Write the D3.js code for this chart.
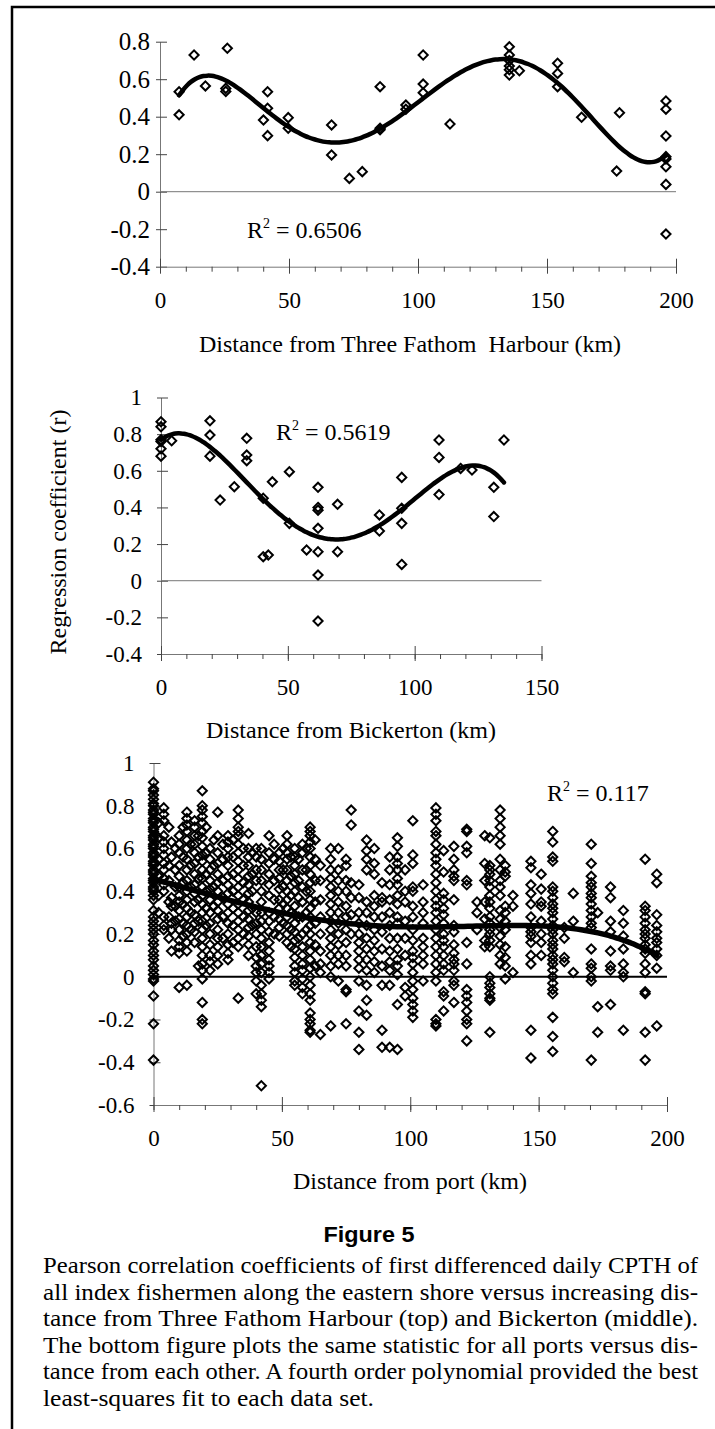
<!DOCTYPE html>
<html>
<head>
<meta charset="utf-8">
<script src="https://cdn.jsdelivr.net/npm/d3@7"></script>
<style>
  body { margin: 0; background: #fff; }
  svg { display: block; background: #fff; }
  text { font-family: "Liberation Serif", "Times New Roman", serif; fill: #000; }
</style>
</head>
<body>
<svg id="fig" width="715" height="1429"></svg>
<script>
// ---- top panel: distance from Three Fathom Harbour ----
const harbourKm = [7.4, 7.4, 13.2, 17.6, 26.1, 25.5, 25.5,
  41.7, 41.7, 40.1, 41.7, 49.7, 49.7, 66.5, 66.5, 73.4, 78.4,
  85.3, 85.3, 85.3, 95.3, 95.3, 102, 102, 102, 112.4,
  135.4, 135.4, 135.4, 135.4, 135.4, 135.4, 139.3, 154.1, 154.1, 154.1,
  163.4, 178.1, 177, 196.1, 196.1, 196.1, 196.1, 196.1, 196.1, 196.1, 196.1];
const harbourR = [0.533, 0.41, 0.729, 0.564, 0.765, 0.551, 0.535,
  0.533, 0.445, 0.382, 0.299, 0.395, 0.338, 0.356, 0.196, 0.071, 0.107,
  0.56, 0.338, 0.33, 0.462, 0.44, 0.729, 0.574, 0.528, 0.361,
  0.773, 0.729, 0.70, 0.67, 0.65, 0.622, 0.645, 0.685, 0.631, 0.56,
  0.397, 0.421, 0.11, 0.484, 0.44, 0.297, 0.187, 0.175, 0.133, 0.039, -0.226];

// ---- middle panel: distance from Bickerton ----
const bickKm = [0, 0, 0, 0, 0, 0, 4.2, 19.3, 19.3, 19.3, 23.3, 28.9,
  33.8, 33.8, 33.8, 40.3, 40.3, 42.3, 43.9, 50.6, 50.6, 57.4,
  61.9, 61.9, 61.9, 61.9, 61.9, 61.9, 61.9, 69.6, 69.6, 86.1, 86.1,
  94.9, 94.9, 94.9, 94.9, 109.6, 109.6, 109.6, 118.1, 122.6, 131.2, 131.2, 135.2];
const bickR = [0.868, 0.84, 0.77, 0.76, 0.72, 0.68, 0.764, 0.873, 0.795, 0.68, 0.44, 0.513,
  0.777, 0.686, 0.655, 0.45, 0.131, 0.14, 0.54, 0.595, 0.313, 0.168,
  0.51, 0.40, 0.385, 0.286, 0.158, 0.031, -0.22, 0.417, 0.158, 0.359, 0.271,
  0.564, 0.395, 0.313, 0.089, 0.768, 0.673, 0.47, 0.613, 0.604, 0.51, 0.35, 0.768];

// ---- bottom panel: all ports, [distance, r values at that distance] ----
const portCols = [
  [0, [0.91, 0.88, 0.87, 0.85, 0.83, 0.81, 0.80, 0.78, 0.77, 0.76, 0.74, 0.73, 0.72, 0.70, 0.69, 0.68, 0.66, 0.65, 0.64, 0.62, 0.61, 0.60, 0.58, 0.57, 0.56, 0.54, 0.53, 0.52, 0.50, 0.49, 0.48, 0.46, 0.45, 0.44, 0.42, 0.41, 0.40, 0.38, 0.36, 0.31, 0.28, 0.26, 0.24, 0.22, 0.20, 0.17, 0.15, 0.12, 0.10, 0.08, 0.05, 0.03, 0.01, -0.01, -0.02, -0.09, -0.22, -0.39]],
  [2, [0.72, 0.65, 0.55, 0.47, 0.38, 0.30]],
  [4, [0.79, 0.76, 0.73, 0.66, 0.63, 0.60, 0.57, 0.53, 0.50, 0.46, 0.43, 0.40, 0.28, 0.24, 0.22]],
  [6, [0.70, 0.52, 0.45, 0.35, 0.28, 0.18]],
  [7, [0.63, 0.56, 0.37, 0.33, 0.25, 0.22, 0.12]],
  [8.5, [0.60, 0.50, 0.42, 0.33, 0.26]],
  [10, [0.66, 0.62, 0.58, 0.52, 0.47, 0.42, 0.38, 0.35, 0.31, 0.27, 0.22, 0.17, 0.14, 0.11, -0.05]],
  [11.5, [0.70, 0.56, 0.44, 0.34, 0.25, 0.19]],
  [13, [0.77, 0.74, 0.71, 0.68, 0.64, 0.60, 0.55, 0.50, 0.45, 0.40, 0.36, 0.32, 0.28, 0.24, 0.20, 0.16, 0.12, -0.04]],
  [14.5, [0.62, 0.52, 0.42, 0.30, 0.22]],
  [16, [0.73, 0.70, 0.66, 0.62, 0.58, 0.53, 0.48, 0.43, 0.39, 0.35, 0.29, 0.25, 0.21, 0.16]],
  [17.5, [0.66, 0.56, 0.46, 0.36, 0.26, 0.05]],
  [19, [0.87, 0.80, 0.78, 0.75, 0.72, 0.68, 0.65, 0.61, 0.57, 0.54, 0.50, 0.46, 0.42, 0.38, 0.34, 0.30, 0.26, 0.22, 0.18, 0.14, 0.10, 0.06, 0.03, -0.01, -0.12, -0.20, -0.22]],
  [20.5, [0.70, 0.58, 0.48, 0.40, 0.32, 0.24]],
  [22, [0.60, 0.55, 0.50, 0.45, 0.41, 0.36, 0.30, 0.25, 0.20, 0.15, 0.10, 0.07, 0.03]],
  [23.5, [0.64, 0.52, 0.42, 0.33]],
  [25, [0.77, 0.66, 0.58, 0.53, 0.48, 0.44, 0.40, 0.35, 0.31, 0.27, 0.22, 0.18, 0.14, 0.10, 0.06]],
  [27, [0.62, 0.55, 0.45, 0.37, 0.28, 0.18]],
  [29, [0.66, 0.63, 0.60, 0.56, 0.52, 0.47, 0.43, 0.39, 0.34, 0.30, 0.25, 0.20, 0.15, 0.11, 0.08]],
  [31, [0.64, 0.56, 0.48, 0.40, 0.32, 0.24, 0.16]],
  [33, [0.78, 0.74, 0.70, 0.68, 0.66, 0.62, 0.58, 0.54, 0.50, 0.46, 0.42, 0.38, 0.34, 0.30, 0.26, 0.22, 0.18, 0.14, -0.10]],
  [35, [0.60, 0.52, 0.44, 0.36, 0.28, 0.20]],
  [37, [0.67, 0.60, 0.56, 0.52, 0.47, 0.43, 0.39, 0.35, 0.31, 0.27, 0.23, 0.19, 0.15, 0.10]],
  [38.5, [0.58, 0.48, 0.40, 0.32, 0.24]],
  [40, [0.60, 0.56, 0.50, 0.45, 0.30, 0.25, 0.20, 0.14, 0.09, 0.05, 0.02, -0.02, -0.08]],
  [42, [0.60, 0.55, 0.50, 0.45, 0.40, 0.35, 0.30, 0.26, 0.22, 0.18, 0.14, 0.10, 0.06, 0.02, -0.04, -0.08, -0.11, -0.14, -0.51]],
  [45, [0.66, 0.58, 0.53, 0.48, 0.43, 0.38, 0.30, 0.26, 0.21, 0.16, 0.12, 0.08, 0.05, 0.02, -0.01]],
  [47, [0.62, 0.55, 0.45, 0.36, 0.28, 0.20]],
  [49, [0.58, 0.54, 0.50, 0.46, 0.41, 0.36, 0.32, 0.27, 0.23, 0.19]],
  [50.5, [0.60, 0.50, 0.42, 0.34, 0.25]],
  [52, [0.66, 0.62, 0.58, 0.55, 0.50, 0.45, 0.40, 0.36, 0.32, 0.28, 0.24, 0.20, 0.16]],
  [53.5, [0.56, 0.47, 0.38, 0.30, 0.22, 0.14]],
  [55, [0.60, 0.56, 0.52, 0.48, 0.44, 0.40, 0.33, 0.29, 0.25, 0.21, 0.17, 0.13, 0.09, 0.05, 0.02, -0.02, -0.04]],
  [56.5, [0.55, 0.45, 0.37, 0.28, 0.18]],
  [58, [0.62, 0.58, 0.50, 0.42, 0.35, 0.28, 0.20, 0.14, 0.10, 0.06, 0.03, -0.01, -0.05, -0.08]],
  [59.5, [0.60, 0.50, 0.40, 0.30, 0.22]],
  [61, [0.70, 0.68, 0.66, 0.63, 0.60, 0.56, 0.52, 0.48, 0.44, 0.40, 0.36, 0.32, 0.28, 0.24, 0.20, 0.16, 0.12, 0.08, 0.04, 0.00, -0.04, -0.08, -0.11, -0.17, -0.20, -0.22, -0.25, -0.26]],
  [63, [0.64, 0.55, 0.45, 0.35, 0.25, 0.15, 0.05]],
  [65, [0.52, 0.45, 0.36, 0.28, 0.20, 0.12, 0.06, 0.02, -0.27]],
  [69, [0.60, 0.55, 0.50, 0.46, 0.42, 0.38, 0.34, 0.30, 0.26, 0.22, 0.18, 0.14, 0.10, 0.05, 0.00, -0.23]],
  [72, [0.60, 0.50, 0.45, 0.40, 0.35, 0.30, 0.25, 0.20, 0.15, 0.10, 0.06, -0.02]],
  [75, [0.55, 0.52, 0.45, 0.40, 0.33, 0.28, 0.22, 0.16, 0.10, 0.05, -0.06, -0.07, -0.22]],
  [77, [0.78, 0.71, 0.44, 0.37, 0.29, 0.20]],
  [80, [0.43, 0.37, 0.30, 0.25, 0.20, 0.16, 0.12, 0.08, 0.04, -0.02, -0.16, -0.26, -0.34]],
  [83, [0.64, 0.59, 0.55, 0.50, 0.35, 0.30, 0.24, 0.18, 0.13, 0.08, 0.03, -0.04, -0.11, -0.18]],
  [86, [0.60, 0.53, 0.48, 0.38, 0.33, 0.28, 0.22, 0.17, 0.12, 0.07, 0.02]],
  [89, [0.44, 0.37, 0.35, 0.28, 0.21, 0.13, 0.05, -0.04, -0.25, -0.33]],
  [92, [0.56, 0.50, 0.43, 0.36, 0.30, 0.24, 0.18, 0.12, 0.07, 0.03, -0.04, -0.33]],
  [95, [0.65, 0.61, 0.56, 0.53, 0.50, 0.46, 0.43, 0.38, 0.34, 0.28, 0.25, 0.18, 0.13, 0.08, 0.05, 0.01, -0.13, -0.34]],
  [98, [0.50, 0.40, 0.35, 0.26, 0.18, 0.10, -0.05, -0.09]],
  [101, [0.73, 0.57, 0.53, 0.42, 0.40, 0.33, 0.28, 0.22, 0.17, 0.12, 0.09, 0.06, 0.02, -0.02, -0.06, -0.10, -0.13, -0.16, -0.19]],
  [105, [0.43, 0.35, 0.30, 0.25, 0.18, 0.14, 0.10, 0.06, -0.02]],
  [110, [0.79, 0.76, 0.73, 0.68, 0.66, 0.62, 0.58, 0.55, 0.52, 0.48, 0.44, 0.40, 0.36, 0.33, 0.30, 0.26, 0.22, 0.18, 0.14, 0.10, 0.06, 0.02, -0.02, -0.20, -0.22, -0.23]],
  [113, [0.59, 0.49, 0.39, 0.36, 0.32, 0.29, 0.25, 0.20, 0.17, 0.14, 0.10, 0.06, 0.03, -0.07, -0.09, -0.16]],
  [117, [0.61, 0.55, 0.50, 0.47, 0.45, 0.36, 0.24, 0.21, 0.15, 0.11, 0.08, 0.06, 0.03, -0.02, -0.04, -0.12]],
  [122, [0.69, 0.68, 0.61, 0.58, 0.45, 0.43, 0.16, 0.06, -0.06, -0.09, -0.12, -0.16, -0.20, -0.22, -0.30]],
  [126, [0.35, 0.30, 0.22]],
  [129, [0.66, 0.53, 0.45, 0.35, 0.27, 0.17, 0.14]],
  [131, [0.65, 0.52, 0.50, 0.48, 0.45, 0.42, 0.38, 0.35, 0.32, 0.28, 0.25, 0.22, 0.20, 0.17, 0.14, 0.00, -0.03, -0.05, -0.08, -0.10, -0.11, -0.26]],
  [135, [0.78, 0.74, 0.70, 0.66, 0.62, 0.55, 0.50, 0.45, 0.42, 0.38, 0.31, 0.27, 0.23, 0.19, 0.15, 0.10, 0.06]],
  [137, [0.52, 0.49, 0.47, 0.33, 0.30, 0.26, 0.22, 0.14, 0.09, 0.05, -0.01]],
  [140, [0.38, 0.33, 0.02]],
  [147, [0.54, 0.51, 0.43, 0.39, 0.34, 0.28, 0.23, 0.21, 0.19, 0.16, 0.10, 0.06, -0.25, -0.38]],
  [151, [0.48, 0.41, 0.35, 0.33, 0.26, 0.20, 0.16, 0.10]],
  [155.5, [0.68, 0.63, 0.56, 0.54, 0.42, 0.40, 0.37, 0.34, 0.32, 0.30, 0.27, 0.24, 0.22, 0.20, 0.17, 0.15, 0.13, 0.10, 0.08, 0.06, 0.03, 0.00, -0.03, -0.06, -0.08, -0.19, -0.28, -0.35]],
  [160, [0.23, 0.18, 0.09, 0.07]],
  [163.5, [0.39, 0.26, 0.02]],
  [170.5, [0.62, 0.53, 0.47, 0.44, 0.42, 0.39, 0.37, 0.34, 0.31, 0.28, 0.25, 0.23, 0.13, 0.06, 0.04, 0.00, -0.02, -0.39]],
  [173, [0.30, -0.14, -0.26]],
  [178, [0.42, 0.37, 0.26, 0.21, 0.12, 0.05, 0.03, -0.13]],
  [183, [0.31, 0.25, 0.19, 0.13, 0.06, 0.02, 0.00, -0.25]],
  [191.5, [0.55, 0.33, 0.31, 0.28, 0.25, 0.22, 0.20, 0.18, 0.15, 0.13, 0.11, 0.06, 0.02, -0.07, -0.08, -0.26, -0.39]],
  [196, [0.48, 0.44, 0.29, 0.24, 0.21, 0.18, 0.16, 0.13, 0.10, 0.04, -0.23]]
];

const captionLines = [
  'Pearson correlation coefficients of first differenced daily CPTH of',
  'all index fishermen along the eastern shore versus increasing dis-',
  'tance from Three Fathom Harbour (top) and Bickerton (middle).',
  'The bottom figure plots the same statistic for all ports versus dis-',
  'tance from each other. A fourth order polynomial provided the best',
  'least-squares fit to each data set.'
];

const svg = d3.select('#fig');

// least-squares polynomial trendline (x scaled to [0,1] for stability)
function polyFit(xs, ys, deg) {
  const s = d3.max(xs), n = deg + 1;
  const A = Array.from({ length: n }, () => new Array(n + 1).fill(0));
  xs.forEach((x, k) => {
    const u = x / s;
    const pw = d3.range(2 * n).map(p => Math.pow(u, p));
    for (let i = 0; i < n; i++) {
      for (let j = 0; j < n; j++) A[i][j] += pw[i + j];
      A[i][n] += pw[i] * ys[k];
    }
  });
  for (let c = 0; c < n; c++) {
    let p = c;
    for (let r = c + 1; r < n; r++) if (Math.abs(A[r][c]) > Math.abs(A[p][c])) p = r;
    [A[c], A[p]] = [A[p], A[c]];
    for (let r = 0; r < n; r++) {
      if (r === c) continue;
      const f = A[r][c] / A[c][c];
      for (let k = c; k <= n; k++) A[r][k] -= f * A[c][k];
    }
  }
  const coef = A.map((row, i) => row[n] / row[i]);
  return x => coef.reduce((acc, c, i) => acc + c * Math.pow(x / s, i), 0);
}

const diamond = 'M0,-4.6L4.6,0L0,4.6L-4.6,0Z';
const fmt = v => String(+v.toFixed(1));

function drawPanel(cfg) {
  const { xs, ys } = cfg;
  const x = d3.scaleLinear().domain(cfg.xDomain).range(cfg.xRange);
  const y = d3.scaleLinear().domain(cfg.yDomain).range(cfg.yRange);
  const g = svg.append('g');

  // y axis, ticks cross the line
  g.append('g')
    .attr('transform', `translate(${cfg.xRange[0]},0)`)
    .call(d3.axisLeft(y).tickValues(d3.range(cfg.yDomain[0], cfg.yDomain[1] + 0.01, 0.2))
      .tickSizeInner(-7).tickSizeOuter(0).tickPadding(cfg.yPad).tickFormat(fmt))
    .call(a => a.selectAll('.tick line').attr('x1', -4).attr('stroke', '#444'))
    .call(a => a.select('.domain').attr('stroke', '#777'))
    .call(a => a.selectAll('text').attr('font-size', cfg.yFont).attr('font-family', null));

  // x axis: minor ticks every 10, major every 50
  const xb = cfg.yRange[0];
  g.append('g')
    .attr('transform', `translate(0,${xb})`)
    .call(d3.axisBottom(x).tickValues(d3.range(cfg.xDomain[0], cfg.xDomain[1] + 1, 10))
      .tickSize(5).tickSizeOuter(0).tickFormat(''))
    .call(a => a.selectAll('.tick line').attr('stroke', '#444'))
    .call(a => a.select('.domain').attr('stroke', '#777'));
  g.append('g')
    .attr('transform', `translate(0,${xb})`)
    .call(d3.axisBottom(x).tickValues(d3.range(cfg.xDomain[0], cfg.xDomain[1] + 1, 50))
      .tickSize(7).tickSizeOuter(0).tickPadding(18).tickFormat(d3.format('d')))
    .call(a => a.select('.domain').remove())
    .call(a => a.selectAll('.tick line').attr('y1', -8).attr('stroke', '#444'))
    .call(a => a.selectAll('text').attr('font-size', 23).attr('font-family', null));

  // zero line
  g.append('line')
    .attr('x1', x(cfg.xDomain[0])).attr('x2', x(cfg.xDomain[1]))
    .attr('y1', y(0)).attr('y2', y(0))
    .attr('stroke', cfg.zeroColor).attr('stroke-width', cfg.zeroWidth);

  // points
  g.append('g').selectAll('path')
    .data(xs.map((v, i) => [v, ys[i]]))
    .join('path')
    .attr('d', diamond)
    .attr('transform', d => `translate(${x(d[0])},${y(d[1])})`)
    .attr('fill', 'none').attr('stroke', '#000').attr('stroke-width', 2);

  // trendline
  const f = polyFit(xs, ys, cfg.degree);
  const [lo, hi] = d3.extent(xs);
  const samples = d3.range(0, 121).map(i => lo + (hi - lo) * i / 120);
  g.append('path')
    .datum(samples)
    .attr('d', d3.line().x(d => x(d)).y(d => y(f(d))).curve(d3.curveBasis))
    .attr('fill', 'none').attr('stroke', '#000').attr('stroke-width', cfg.fitWidth)
    .attr('stroke-linecap', 'round');

  // R² label
  const t = g.append('text').attr('x', cfg.r2Pos[0]).attr('y', cfg.r2Pos[1]).attr('font-size', 24);
  t.append('tspan').text('R');
  t.append('tspan').attr('font-size', 14).attr('dy', -10).text('2');
  t.append('tspan').attr('dy', 10).text(' = ' + cfg.r2);

  // x title
  g.append('text')
    .attr('x', cfg.titlePos[0]).attr('y', cfg.titlePos[1])
    .attr('text-anchor', 'middle').attr('font-size', 24)
    .style('white-space', 'pre')
    .text(cfg.title);
}

drawPanel({
  xs: harbourKm, ys: harbourR, degree: 5,
  xDomain: [0, 200], xRange: [160, 676],
  yDomain: [-0.4, 0.8], yRange: [266.7, 41.7], yPad: 10, yFont: 25,
  zeroColor: '#777', zeroWidth: 1, fitWidth: 4.5,
  r2: '0.6506', r2Pos: [247, 238],
  title: 'Distance from Three Fathom  Harbour (km)', titlePos: [410, 352]
});

drawPanel({
  xs: bickKm, ys: bickR, degree: 4,
  xDomain: [0, 150], xRange: [161, 541.5],
  yDomain: [-0.4, 1.0], yRange: [654, 397.5], yPad: 19, yFont: 23,
  zeroColor: '#777', zeroWidth: 1, fitWidth: 4.5,
  r2: '0.5619', r2Pos: [276, 440],
  title: 'Distance from Bickerton (km)', titlePos: [351, 738]
});

const portKm = portCols.flatMap(([km, rs]) => rs.map(() => km));
const portR = portCols.flatMap(([, rs]) => rs);
drawPanel({
  xs: portKm, ys: portR, degree: 4,
  xDomain: [0, 200], xRange: [153.5, 667],
  yDomain: [-0.6, 1.0], yRange: [1105, 763], yPad: 19, yFont: 23,
  zeroColor: '#000', zeroWidth: 2, fitWidth: 5.5,
  r2: '0.117', r2Pos: [547, 801],
  title: 'Distance from port (km)', titlePos: [410, 1189]
});

// y-axis title for the middle panel
svg.append('text')
  .attr('transform', 'translate(66,532) rotate(-90)')
  .attr('text-anchor', 'middle').attr('font-size', 24)
  .text('Regression coefficient (r)');

// frame
svg.append('path')
  .attr('d', 'M12,1429V7H715')
  .attr('fill', 'none').attr('stroke', '#000').attr('stroke-width', 2.5);

// caption
svg.append('text')
  .attr('x', 369).attr('y', 1242).attr('text-anchor', 'middle')
  .style('font-family', '"Liberation Sans", Arial, sans-serif')
  .style('font-weight', 'bold').attr('font-size', 22)
  .attr('textLength', 91).attr('lengthAdjust', 'spacingAndGlyphs')
  .text('Figure 5');

svg.append('g').selectAll('text')
  .data(captionLines)
  .join('text')
  .attr('x', 43)
  .attr('y', (d, i) => 1273 + i * 26.5)
  .attr('font-size', 23)
  .attr('textLength', (d, i) => i < captionLines.length - 1 ? 655 : 331)
  .attr('lengthAdjust', 'spacingAndGlyphs')
  .text(d => d);
</script>
</body>
</html>
